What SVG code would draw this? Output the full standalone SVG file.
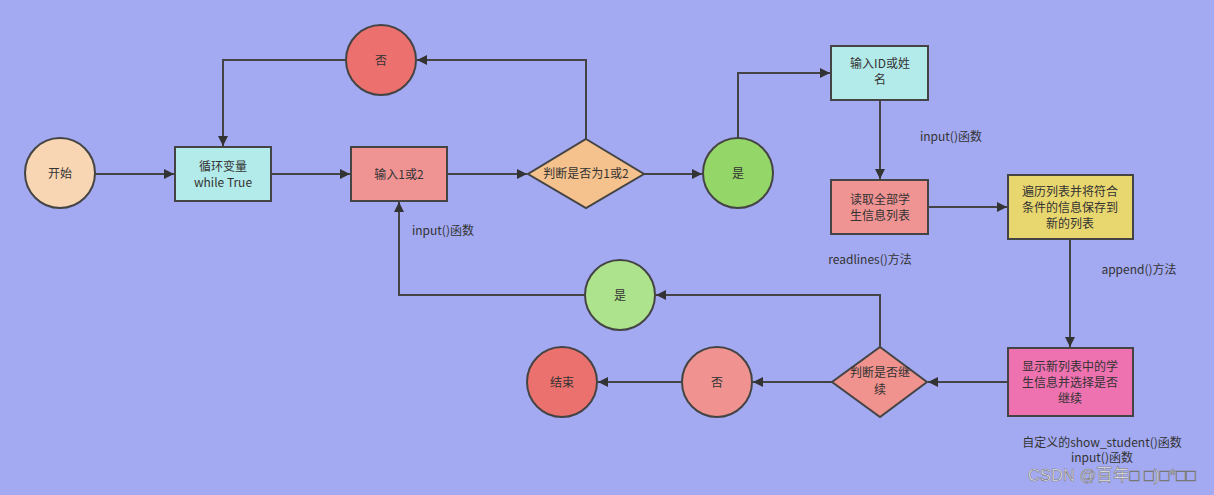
<svg xmlns="http://www.w3.org/2000/svg" width="1214" height="495" viewBox="0 0 1214 495">
<defs>
<marker id="ah" viewBox="0 0 10 10" refX="10" refY="5" markerWidth="10" markerHeight="10" markerUnits="userSpaceOnUse" orient="auto">
<path d="M0,0 L10,5 L0,10 z" fill="#333"/>
</marker>
</defs>
<style>
.n{stroke:#444;stroke-width:2}
.t{font-family:"Noto Sans CJK SC","Liberation Sans",sans-serif;font-size:12px;fill:#333;text-anchor:middle}
.l{font-family:"Noto Sans CJK SC","Liberation Sans",sans-serif;font-size:12px;fill:#333;text-anchor:middle}
.c path{fill:none;stroke:#444;stroke-width:2;marker-end:url(#ah)}
</style>
<rect width="1214" height="495" fill="#a3aaf2"/>
<g class="c">
<path d="M95,174 L174,174"/>
<path d="M271,174 L350,174"/>
<path d="M447,174 L527,174"/>
<path d="M644,174 L702,174"/>
<path d="M586,139 L586,60 L417,60"/>
<path d="M346,60 L223,60 L223,146"/>
<path d="M738,139 L738,73 L830,73"/>
<path d="M880,100 L880,179"/>
<path d="M928,207 L1007,207"/>
<path d="M1070,239 L1070,347"/>
<path d="M1008,382 L928,382"/>
<path d="M832,382 L753,382"/>
<path d="M682,382 L598,382"/>
<path d="M880,347 L880,295 L656,295"/>
<path d="M585,295 L399,295 L399,202"/>
</g>
<g id="start"><circle class="n" cx="60" cy="173" r="35" fill="#f8d5b3"/><text class="t" x="60" y="178">开始</text></g>
<g id="loop"><rect class="n" x="175" y="147" width="96" height="54" fill="#b3ebea"/><text class="t" x="223" y="171">循环变量</text><text class="t" x="223" y="187">while True</text></g>
<g id="input12"><rect class="n" x="351" y="147" width="96" height="54" fill="#f09393"/><text class="t" x="399" y="179">输入1或2</text></g>
<g id="no1"><circle class="n" cx="381" cy="60" r="35" fill="#eb706e"/><text class="t" x="381" y="65">否</text></g>
<g id="judge12"><path class="n" d="M586,139 L644,174 L586,208 L528,174 z" fill="#f5c28d"/><text class="t" x="586" y="178">判断是否为1或2</text></g>
<g id="yes1"><circle class="n" cx="738" cy="173" r="35" fill="#94d768"/><text class="t" x="738" y="178">是</text></g>
<g id="inputid"><rect class="n" x="831" y="46" width="97" height="54" fill="#b3ebea"/><text class="t" x="880" y="68">输入ID或姓</text><text class="t" x="880" y="84">名</text></g>
<g id="read"><rect class="n" x="831" y="180" width="97" height="54" fill="#f09393"/><text class="t" x="880" y="204">读取全部学</text><text class="t" x="880" y="220">生信息列表</text></g>
<g id="iter"><rect class="n" x="1008" y="175" width="125" height="64" fill="#e8d66e"/><text class="t" x="1070" y="196">遍历列表并将符合</text><text class="t" x="1070" y="212">条件的信息保存到</text><text class="t" x="1070" y="228">新的列表</text></g>
<g id="show"><rect class="n" x="1008" y="348" width="125" height="68" fill="#ee71b0"/><text class="t" x="1070" y="371">显示新列表中的学</text><text class="t" x="1070" y="387">生信息并选择是否</text><text class="t" x="1070" y="403">继续</text></g>
<g id="judge2"><path class="n" d="M880,347 L927,382 L880,417 L832,382 z" fill="#f0928e"/><text class="t" x="880" y="377">判断是否继</text><text class="t" x="880" y="394">续</text></g>
<g id="yes2"><circle class="n" cx="620" cy="295" r="35" fill="#aee38d"/><text class="t" x="620" y="300">是</text></g>
<g id="no2"><circle class="n" cx="717" cy="382" r="35" fill="#f09390"/><text class="t" x="717" y="387">否</text></g>
<g id="end"><circle class="n" cx="562" cy="382" r="35" fill="#eb716e"/><text class="t" x="562" y="387">结束</text></g>
<g id="labels">
<text class="l" x="951" y="141">input()函数</text>
<text class="l" x="870" y="264">readlines()方法</text>
<text class="l" x="1139" y="274">append()方法</text>
<text class="l" x="443" y="235">input()函数</text>
<text class="l" x="1102" y="447">自定义的show_student()函数</text>
<text class="l" x="1102" y="462">input()函数</text>
</g>
<text x="1028" y="481" textLength="168" lengthAdjust="spacingAndGlyphs" font-family="'Liberation Sans','Noto Sans CJK SC',sans-serif" font-size="17" fill="#f4f4f8" stroke="#777" stroke-width="0.6">CSDN @百年□ □)□*□□</text>
</svg>
